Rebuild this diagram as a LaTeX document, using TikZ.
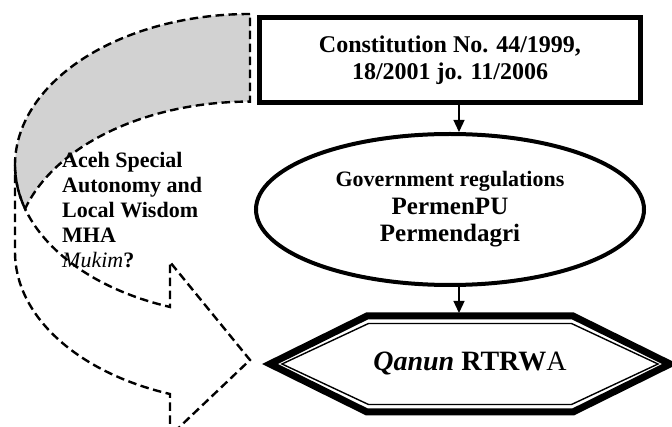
\documentclass[tikz,border=0pt]{standalone}
\usepackage{fontspec}
\setmainfont{Liberation Serif}
\usepackage{tikz}
\usetikzlibrary{arrows.meta,shapes.geometric,positioning}
\tikzstyle{lawbox} = [rectangle, minimum width=381pt, minimum height=85pt, align=center, draw=black, line width=5pt, font=\fontsize{24}{27}\selectfont\bfseries]
\tikzstyle{regellipse} = [ellipse, minimum width=388pt, minimum height=151pt, align=center, draw=black, line width=4pt, font=\fontsize{25}{27}\selectfont\bfseries]
\tikzstyle{qanunbox} = [rectangle, minimum width=400pt, minimum height=96pt, inner sep=0pt, outer sep=0pt, font=\fontsize{28}{30}\selectfont]
\tikzstyle{arrow} = [line width=1.3pt,-{Triangle[length=12pt,width=11pt]}]
\tikzstyle{dashedline} = [line width=2.4pt, dash pattern=on 8.5pt off 4.5pt]

\begin{document}
\begin{tikzpicture}[x=1pt,y=1pt]
\useasboundingbox (0,0) rectangle (672,-427);
\clip (0,0) rectangle (672,-427);

% Curved arrow: back side (grey) and front band
\filldraw[dashedline, fill=gray!35] (250,-14)
  arc[start angle=90, end angle=196.86, x radius=235, y radius=151]
  arc[start angle=163.14, end angle=90, x radius=235, y radius=151] -- cycle;
\draw[dashedline] (15,-165)
  arc[start angle=180, end angle=250.1, x radius=235, y radius=151]
  -- (170,-262) -- (250,-360) -- (170,-436) -- (170,-394)
  arc[start angle=250.1, end angle=180, x radius=235, y radius=151] -- cycle;

\node[anchor=north west, inner sep=0pt, align=left, font=\fontsize{22}{25}\selectfont\bfseries] (aceh) at (62,-152) {
Aceh Special\\
Autonomy and\\
Local Wisdom\\
MHA\\
\textmd{\textit{Mukim}}?
};

% Three levels
\node[lawbox] (cons) at (450,-60) {
Constitution No. 44/1999,\\
18/2001 jo. 11/2006
};
\node[regellipse, below=27pt of cons] (gov) {
{\fontsize{22}{26}\selectfont Government regulations}\\[1pt]
PermenPU\\
Permendagri
};
\node[qanunbox, below=29pt of gov, xshift=20pt] (rtrw) {{\bfseries\itshape Qanun} \textbf{RTRW}A};

\draw[line width=7pt, line join=miter] (rtrw.west) -- ([xshift=97pt]rtrw.north west) -- ([xshift=-97pt]rtrw.north east)
  -- (rtrw.east) -- ([xshift=-97pt]rtrw.south east) -- ([xshift=97pt]rtrw.south west) -- cycle;
\draw[line width=1.4pt, line join=miter] ([xshift=12pt]rtrw.west) -- ([xshift=98.5pt,yshift=-7.5pt]rtrw.north west)
  -- ([xshift=-98.5pt,yshift=-7.5pt]rtrw.north east) -- ([xshift=-12pt]rtrw.east)
  -- ([xshift=-98.5pt,yshift=7.5pt]rtrw.south east) -- ([xshift=98.5pt,yshift=7.5pt]rtrw.south west) -- cycle;

\draw[arrow] ([xshift=9pt]cons.south) -- ([xshift=9pt]gov.north);
\draw[arrow, shorten >=3pt] ([xshift=9pt]gov.south) -- ([xshift=-11pt]rtrw.north);
\end{tikzpicture}
\end{document}
